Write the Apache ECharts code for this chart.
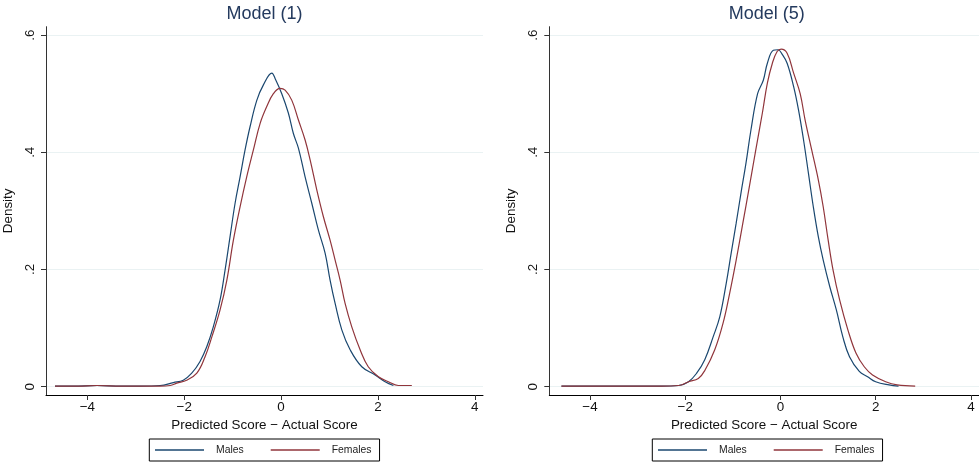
<!DOCTYPE html>
<html>
<head>
<meta charset="utf-8">
<script src="https://cdn.jsdelivr.net/npm/echarts@6/dist/echarts.min.js"></script>
<style>html,body{margin:0;padding:0;background:#fff}#c{width:979px;height:465px}</style>
</head>
<body>
<div id="c"></div>
<script>
// ---- data ----
const panelTitles = ['Model (1)', 'Model (5)'];
const seriesNames = ['Males', 'Females'];
const xTicks = [-4, -2, 0, 2, 4];
const yTicks = [0, 0.2, 0.4, 0.6];

const m1MalesX = [-4.67, -4.3, -3.8, -3.3, -2.9, -2.5, -2.225, -2.02, -1.845, -1.674, -1.535, -1.40, -1.26, -1.157, -1.054, -0.95, -0.847, -0.744, -0.64, -0.50, -0.365, -0.19, -0.124, 0.014, 0.15, 0.254, 0.358, 0.496, 0.634, 0.771, 0.909, 1.012, 1.116, 1.254, 1.426, 1.667, 1.942, 2.149, 2.32];
const m1MalesY = [0.001, 0.001, 0.002, 0.001, 0.001, 0.002, 0.007, 0.011, 0.023, 0.043, 0.068, 0.102, 0.148, 0.199, 0.256, 0.313, 0.358, 0.404, 0.444, 0.489, 0.515, 0.535, 0.526, 0.500, 0.467, 0.432, 0.407, 0.358, 0.313, 0.267, 0.228, 0.182, 0.142, 0.097, 0.063, 0.034, 0.020, 0.0085, 0.002];

const m1FemalesX = [-4.67, -4.2, -3.8, -3.3, -2.9, -2.5, -2.29, -2.155, -1.95, -1.74, -1.57, -1.43, -1.26, -1.12, -0.985, -0.847, -0.71, -0.572, -0.434, -0.296, -0.159, -0.02, 0.083, 0.22, 0.358, 0.496, 0.60, 0.737, 0.874, 1.012, 1.116, 1.219, 1.322, 1.46, 1.632, 1.80, 2.01, 2.217, 2.42, 2.70];
const m1FemalesY = [0.001, 0.001, 0.002, 0.001, 0.001, 0.001, 0.002, 0.006, 0.011, 0.023, 0.051, 0.085, 0.131, 0.182, 0.250, 0.307, 0.358, 0.404, 0.449, 0.478, 0.500, 0.509, 0.506, 0.489, 0.455, 0.421, 0.387, 0.336, 0.290, 0.250, 0.216, 0.182, 0.142, 0.102, 0.063, 0.034, 0.017, 0.0085, 0.002, 0.002];

const m5MalesX = [-4.6, -4.0, -3.5, -3.0, -2.5, -2.14, -1.93, -1.76, -1.59, -1.414, -1.275, -1.14, -1.035, -0.93, -0.83, -0.725, -0.62, -0.48, -0.36, -0.275, -0.15, -0.05, 0.03, 0.14, 0.277, 0.38, 0.485, 0.588, 0.69, 0.795, 0.898, 1.035, 1.174, 1.31, 1.45, 1.656, 1.83, 2.0, 2.28, 2.48];
const m5MalesY = [0.001, 0.001, 0.001, 0.001, 0.001, 0.002, 0.0085, 0.023, 0.046, 0.085, 0.119, 0.176, 0.228, 0.279, 0.330, 0.381, 0.438, 0.500, 0.523, 0.552, 0.574, 0.575, 0.568, 0.552, 0.512, 0.472, 0.421, 0.364, 0.307, 0.256, 0.216, 0.171, 0.131, 0.085, 0.051, 0.026, 0.017, 0.0085, 0.003, 0.001];

const m5FemalesX = [-4.6, -4.0, -3.5, -3.0, -2.5, -2.14, -1.93, -1.725, -1.586, -1.38, -1.207, -1.068, -0.93, -0.79, -0.654, -0.518, -0.38, -0.275, -0.17, -0.07, 0.015, 0.14, 0.277, 0.414, 0.518, 0.656, 0.795, 0.898, 1.002, 1.105, 1.243, 1.416, 1.588, 1.76, 1.934, 2.21, 2.45, 2.83];
const m5FemalesY = [0.001, 0.001, 0.001, 0.001, 0.001, 0.002, 0.0085, 0.014, 0.028, 0.063, 0.108, 0.159, 0.216, 0.279, 0.341, 0.404, 0.467, 0.518, 0.552, 0.572, 0.576, 0.569, 0.535, 0.500, 0.455, 0.404, 0.353, 0.307, 0.250, 0.199, 0.148, 0.097, 0.057, 0.034, 0.020, 0.0085, 0.003, 0.001];

const colors = ['#1a476f', '#90353b'];
const FONT = '"Liberation Sans", Arial, Helvetica, sans-serif';

function zip(xs, ys) { return xs.map((x, i) => [x, ys[i]]); }
const panelData = [
  [zip(m1MalesX, m1MalesY), zip(m1FemalesX, m1FemalesY)],
  [zip(m5MalesX, m5MalesY), zip(m5FemalesX, m5FemalesY)]
];

const grids = [
  { left: 46, top: 26.7, width: 437, bottom: 70 },
  { left: 549.3, top: 26.7, width: 434.7, bottom: 70 }
];
const legendLeft = [149.3, 652.3];

function fmtX(v) { return v < 0 ? '\u2212' + (-v) : String(v); }
function fmtY(v) { return v === 0 ? '0' : String(v).replace(/^0/, ''); }

const option = {
  backgroundColor: '#fff',
  animation: false,
  textStyle: { fontFamily: FONT },
  title: panelTitles.map((t, i) => ({
    text: t,
    left: grids[i].left + grids[i].width / 2,
    textAlign: 'center',
    top: 5,
    padding: 0,
    textStyle: { fontFamily: FONT, fontSize: 18, fontWeight: 'normal', color: '#243a5e' }
  })),
  grid: grids,
  xAxis: grids.map((g, i) => ({
    type: 'value',
    gridIndex: i,
    min: -4.855,
    max: 4.17,
    name: 'Predicted Score \u2212 Actual Score',
    nameLocation: 'middle',
    nameGap: 21,
    nameTextStyle: { fontFamily: FONT, fontSize: 13.4, color: '#111' },
    axisLine: { onZero: false, lineStyle: { color: '#000', width: 1 } },
    axisTick: { customValues: xTicks, length: 5, lineStyle: { color: '#333' } },
    axisLabel: { customValues: xTicks, formatter: fmtX, fontFamily: FONT, fontSize: 13.4, color: '#111', margin: 6 },
    splitLine: { show: false }
  })),
  yAxis: grids.map((g, i) => ({
    type: 'value',
    gridIndex: i,
    min: -0.0142,
    max: 0.6143,
    name: 'Density',
    nameLocation: 'middle',
    nameGap: 31,
    nameTextStyle: { fontFamily: FONT, fontSize: 13.4, color: '#111' },
    axisLine: { show: true, onZero: false, lineStyle: { color: '#333', width: 1 } },
    axisTick: { show: true, customValues: yTicks, length: 5, lineStyle: { color: '#333' } },
    axisLabel: { customValues: yTicks, formatter: fmtY, rotate: 90, fontFamily: FONT, fontSize: 13.4, color: '#111', margin: 9 },
    splitLine: { show: true, lineStyle: { color: '#eaf2f3', width: 1 } }
  })),
  legend: grids.map((g, i) => ({
    data: seriesNames,
    left: legendLeft[i],
    top: 439,
    orient: 'horizontal',
    icon: 'rect',
    itemWidth: 49,
    itemHeight: 1.3,
    itemGap: 27,
    padding: [6, 8, 6, 5.7],
    borderColor: '#000',
    borderWidth: 1,
    selectedMode: false,
    textStyle: { fontFamily: FONT, fontSize: 10.4, color: '#222', padding: [0, 0, 0, 7] }
  })),
  series: []
};

panelData.forEach((pair, p) => {
  pair.forEach((d, s) => {
    option.series.push({
      type: 'line',
      name: seriesNames[s],
      xAxisIndex: p,
      yAxisIndex: p,
      data: d,
      symbol: 'none',
      showSymbol: false,
      smooth: 0.4,
      color: colors[s],
      itemStyle: { color: colors[s] },
      lineStyle: { color: colors[s], width: 1.2 }
    });
  });
});

const chart = echarts.init(document.getElementById('c'), null, { renderer: 'canvas' });
chart.setOption(option);
</script>
</body>
</html>
